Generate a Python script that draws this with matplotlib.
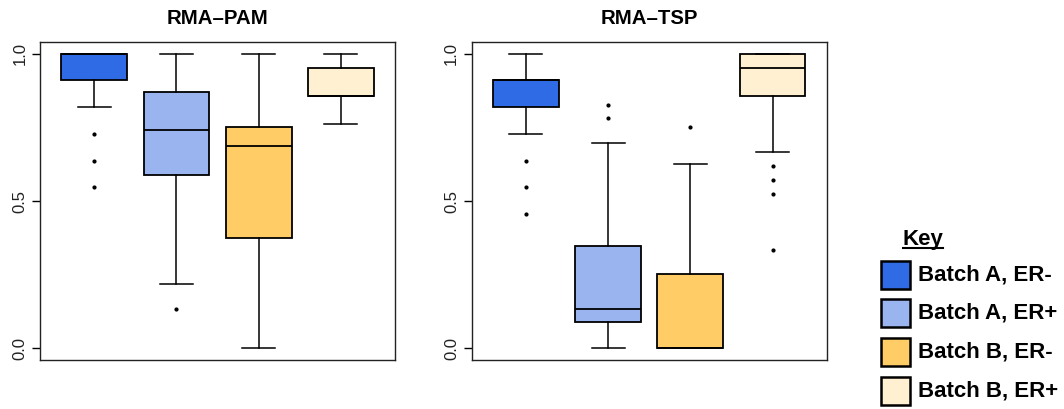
import matplotlib
matplotlib.use("Agg")
import matplotlib.pyplot as plt
from matplotlib.patches import Rectangle
from matplotlib.lines import Line2D

plt.rcParams["font.family"] = ["Liberation Sans", "DejaVu Sans"]

groups = ["Batch A, ER-", "Batch A, ER+", "Batch B, ER-", "Batch B, ER+"]
colors = ["#2E6BE4", "#99B4EF", "#FFCC66", "#FFF0D2"]

# five-number summaries per panel: low whisker, q1, median, q3, high whisker
pam_whislo = [0.819, 0.218, 0.0, 0.762]
pam_q1 = [0.910, 0.588, 0.375, 0.858]
pam_med = [1.0, 0.740, 0.688, 0.858]
pam_q3 = [1.0, 0.870, 0.750, 0.953]
pam_whishi = [1.0, 1.0, 1.0, 1.0]
pam_fliers = [[0.728, 0.637, 0.547], [0.132], [], []]

tsp_whislo = [0.728, 0.0, 0.0, 0.667]
tsp_q1 = [0.818, 0.088, 0.0, 0.858]
tsp_med = [0.910, 0.132, 0.0, 0.953]
tsp_q3 = [0.910, 0.348, 0.251, 1.0]
tsp_whishi = [1.0, 0.696, 0.626, 1.0]
tsp_fliers = [[0.637, 0.546, 0.455], [0.827, 0.783], [0.750], [0.620, 0.572, 0.524, 0.334]]


def stats(lo, q1, med, q3, hi, fl):
    return [dict(whislo=a, q1=b, med=c, q3=d, whishi=e, fliers=f)
            for a, b, c, d, e, f in zip(lo, q1, med, q3, hi, fl)]


panels = [
    ("RMA\u2013PAM", stats(pam_whislo, pam_q1, pam_med, pam_q3, pam_whishi, pam_fliers)),
    ("RMA\u2013TSP", stats(tsp_whislo, tsp_q1, tsp_med, tsp_q3, tsp_whishi, tsp_fliers)),
]

fig = plt.figure(figsize=(10.64, 4.09), dpi=100)
lefts = [0.0376, 0.4433]

for left, (title, st) in zip(lefts, panels):
    ax = fig.add_axes([left, 0.1198, 0.3338, 0.7775])
    bp = ax.bxp(st, positions=[1, 2, 3, 4], widths=0.8, capwidths=0.4,
                patch_artist=True, showfliers=True,
                boxprops=dict(linewidth=1.3, edgecolor="black"),
                medianprops=dict(color="black", linewidth=1.3),
                whiskerprops=dict(color="black", linewidth=1.1, linestyle="-"),
                capprops=dict(color="black", linewidth=1.1),
                flierprops=dict(marker="o", markersize=2.0, markerfacecolor="black",
                                markeredgecolor="black", linestyle="none"))
    for patch, c in zip(bp["boxes"], colors):
        patch.set_facecolor(c)
    ax.set_xlim(0.34, 4.66)
    ax.set_ylim(-0.04, 1.04)
    ax.set_xticks([])
    ax.set_yticks([0.0, 0.5, 1.0])
    ax.set_yticklabels(["0.0", "0.5", "1.0"], rotation=90, va="center",
                       fontsize=12, color="#222222")
    ax.tick_params(axis="y", length=6, width=1.0, pad=3)
    for sp in ax.spines.values():
        sp.set_linewidth(1.0)
        sp.set_color("#222222")
    ax.set_title(title, fontsize=14.7, fontweight="bold", pad=13)

# key on the right
W, H = 1064.0, 409.0
fig.text(923 / W, 1 - 239 / H, "Key", fontsize=16, fontweight="bold",
         ha="center", va="center")
fig.add_artist(Line2D([903 / W, 943 / W], [1 - 248 / H, 1 - 248 / H],
                      color="black", linewidth=1.5))
rows_y = [275, 313, 352, 391]
for y, c, lab in zip(rows_y, colors, groups):
    fig.add_artist(Rectangle((881 / W, 1 - (y + 14) / H), 29 / W, 28 / H,
                             facecolor=c, edgecolor="black", linewidth=1.8))
    fig.text(918 / W, 1 - y / H, lab, fontsize=16, fontweight="bold",
             ha="left", va="center")

fig.savefig("out.png", dpi=100)
